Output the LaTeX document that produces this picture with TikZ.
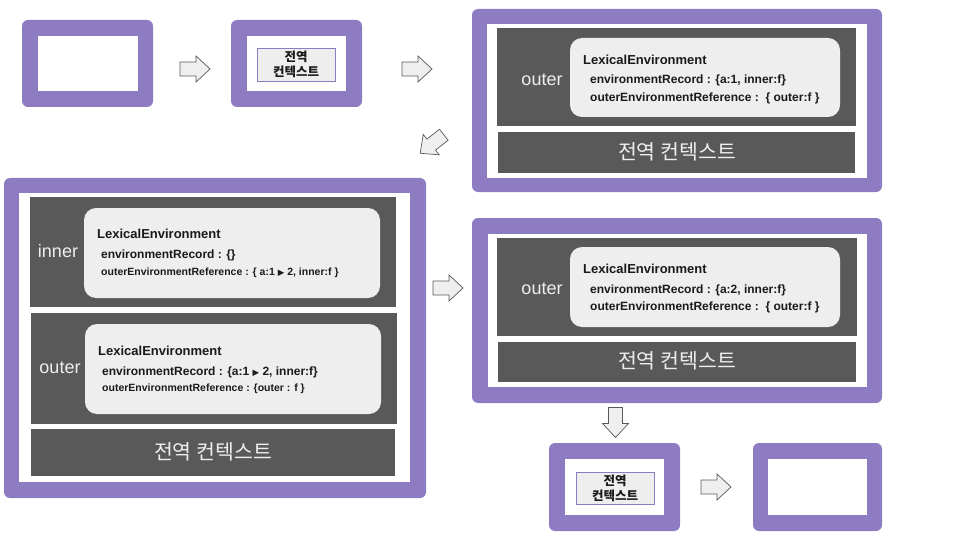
\documentclass[tikz,border=0pt]{standalone}
\usepackage{fontspec}
\setmainfont{Liberation Sans}
\newfontfamily\kr{Noto Sans CJK KR}
\newfontfamily\sym{DejaVu Sans}
\definecolor{purp}{HTML}{8E7CC3}
\definecolor{dgray}{HTML}{595959}
\definecolor{lgray}{HTML}{EEEEEE}
\definecolor{agray}{HTML}{EFEFEF}
\definecolor{txt}{HTML}{1A1A1A}
\newcommand\tri{{\sym\fontsize{8.5}{9}\selectfont ▶}}
\begin{document}
\begin{tikzpicture}[x=1pt,y=-1pt,
  frame/.style={fill=purp, rounded corners=6pt, inner sep=0pt, draw=none},
  hole/.style={fill=white, inner sep=0pt},
  dark/.style={fill=dgray, inner sep=0pt},
  lex/.style={fill=lgray, rounded corners=12pt, inner sep=0pt},
  gbox/.style={fill=lgray, draw=purp, line width=0.7pt, inner sep=0pt, align=center,
    font=\kr\bfseries\fontsize{12.5}{15}\selectfont, text=txt},
  lextitle/.style={anchor=west, inner sep=0pt, text=txt, font=\bfseries\fontsize{13}{15}\selectfont},
  lexline/.style={anchor=west, inner sep=0pt, text=txt, font=\bfseries\fontsize{12}{14}\selectfont},
  lexsmall/.style={anchor=west, inner sep=0pt, text=txt, font=\bfseries\fontsize{10.5}{12}\selectfont},
  envname/.style={inner sep=0pt, text=lgray, font=\fontsize{18}{20}\selectfont},
  gtext/.style={inner sep=0pt, text=lgray, font=\kr\fontsize{20.5}{22}\selectfont},
  barrow/.style={fill=agray, draw=dgray, line width=0.7pt, line join=miter}
]
\useasboundingbox (0,0) rectangle (960,540);

\newcommand\blockarrow[4]{%
  \begin{scope}[shift={(#1,#2)}, rotate=#3, scale=#4]
    \draw[barrow] (-15,-7) -- (1,-7) -- (1,-13) -- (15,0) -- (1,13) -- (1,7) -- (-15,7) -- cycle;
  \end{scope}}

% Frame 1
\node[frame, minimum width=131, minimum height=87] (f1) at (87.5,63.5) {};
\node[hole, minimum width=100, minimum height=55] (h1) at (88,63.5) {};
% Frame 2
\node[frame, minimum width=131, minimum height=87] (f2) at (296.5,63.5) {};
\node[hole, minimum width=99, minimum height=55] (h2) at (296.5,63.5) {};
\node[gbox, minimum width=78, minimum height=33] (g2) at (296,64.5) {전역\\컨텍스트};

% Frame 3
\node[frame, minimum width=410, minimum height=183] (f3) at (677,100.5) {};
\node[hole, minimum width=380, minimum height=154] (h3) at (677,101) {};
\node[dark, minimum width=359, minimum height=98] (d3) at (676.5,77) {};
\node[dark, minimum width=357, minimum height=41] (dg3) at (676.5,152.5) {};
\node[lex, minimum width=270, minimum height=79] (l3) at (705,77.5) {};
\node[envname] (n3) at (542,80) {outer};
\node[lextitle] (t3) at (583,60) {LexicalEnvironment};
\node[lexline] (r3) at (590,80) {environmentRecord : \{a:1, inner:f\}};
\node[lexline] (o3) at (590,98) {outerEnvironmentReference :\ \ \{ outer:f \}};
\node[gtext] (gt3) at (677,152) {전역 컨텍스트};

% Frame 4
\node[frame, minimum width=422, minimum height=320] (f4) at (215,338) {};
\node[hole, minimum width=391, minimum height=289] (h4) at (214.5,337.5) {};
\node[dark, minimum width=366, minimum height=110] (di4) at (213,252) {};
\node[dark, minimum width=366, minimum height=111] (do4) at (214,368.5) {};
\node[dark, minimum width=364, minimum height=47] (dg4) at (213,452.5) {};
\node[lex, minimum width=296, minimum height=90] (li4) at (232,253) {};
\node[lex, minimum width=296, minimum height=90] (lo4) at (233,369) {};
\node[envname] (ni4) at (58,251) {inner};
\node[envname] (no4) at (60,368) {outer};
\node[lextitle] (ti4) at (97,234) {LexicalEnvironment};
\node[lexline] (ri4) at (101,255) {environmentRecord : \{\}};
\node[lexsmall] (oi4) at (101,273) {outerEnvironmentReference : \{ a:1 \tri\ 2, inner:f \}};
\node[lextitle] (to4) at (98,351) {LexicalEnvironment};
\node[lexline] (ro4) at (102,372) {environmentRecord : \{a:1 \tri\ 2, inner:f\}};
\node[lexsmall] (oo4) at (102,389) {outerEnvironmentReference : \{outer : f \}};
\node[gtext] (gt4) at (213,452) {전역 컨텍스트};

% Frame 5
\node[frame, minimum width=410, minimum height=185] (f5) at (677,310.5) {};
\node[hole, minimum width=379, minimum height=153] (h5) at (677.5,310.5) {};
\node[dark, minimum width=360, minimum height=98] (d5) at (677,287) {};
\node[dark, minimum width=358, minimum height=40] (dg5) at (677,362) {};
\node[lex, minimum width=270, minimum height=80] (l5) at (705,287) {};
\node[envname] (n5) at (542,289) {outer};
\node[lextitle] (t5) at (583,269) {LexicalEnvironment};
\node[lexline] (r5) at (590,290) {environmentRecord : \{a:2, inner:f\}};
\node[lexline] (o5) at (590,307) {outerEnvironmentReference :\ \ \{ outer:f \}};
\node[gtext] (gt5) at (677,361) {전역 컨텍스트};

% Frame 6
\node[frame, minimum width=131, minimum height=88] (f6) at (614.5,487) {};
\node[hole, minimum width=99, minimum height=56] (h6) at (614.5,487) {};
\node[gbox, minimum width=78, minimum height=32] (g6) at (615,488) {전역\\컨텍스트};
% Frame 7
\node[frame, minimum width=129, minimum height=88] (f7) at (817.5,487) {};
\node[hole, minimum width=99, minimum height=56] (h7) at (817.5,487) {};

% Block arrows
\blockarrow{195}{69}{0}{1}
\blockarrow{417}{69}{0}{1}
\blockarrow{432}{144}{218}{1}
\blockarrow{448}{288}{0}{1}
\blockarrow{615.5}{422.5}{-90}{1}
\blockarrow{716}{487}{0}{1}
\end{tikzpicture}
\end{document}
